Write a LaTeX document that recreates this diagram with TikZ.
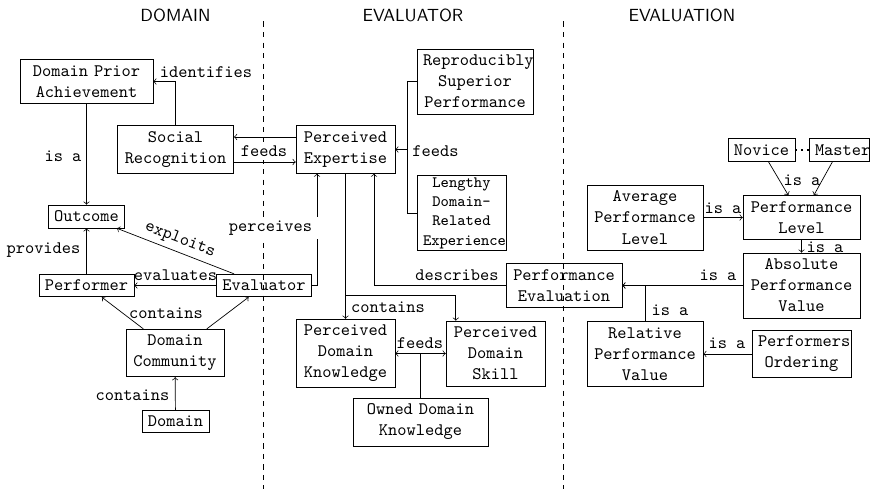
\documentclass[tikz,border=0pt]{standalone}
\usepackage{amsmath}
\usepackage{tikz}
\usetikzlibrary{calc}

\begin{document}
\begin{tikzpicture}[font=\ttfamily,
	concept/.style={draw, align=center},
	rel/.style={inner sep=2pt},
	region/.style={font=\sffamily}]
	
	\useasboundingbox (0,0) rectangle (17.48,9.78);
	
	% columns
	\node[region] (hdom) at (3.51,9.48) {DOMAIN};
	\node[region] (hevr) at (8.26,9.48) {EVALUATOR};
	\node[region] (hevn) at (13.64,9.48) {EVALUATION};
	
	\draw[dashed] (5.26,9.35) -- (5.26,0);
	\draw[dashed] (11.26,9.35) -- (11.26,0);
	
	% domain
	\node[concept, text width=2.42cm] (dpa) at (1.73,8.15) {Domain Prior\\Achievement};
	
	\node[concept, text width=2.09cm] (social) at (3.51,6.79) {Social\\Recognition};
	
	\node[concept] (outc) at (1.73,5.45) {Outcome};
	
	\node[concept] (perf) at (1.73,4.07) {Performer};
	
	\node[concept] (evalr) at (5.28,4.07) {Evaluator};
	
	\node[concept, text width=1.72cm] (dcom) at (3.50,2.72) {Domain\\Community};
	
	\node[concept] (dom) at (3.51,1.35) {Domain};
	
	% evaluator
	\node[concept, text width=1.74cm] (pexp) at (6.91,6.79) {Perceived\\Expertise};
	
	\node[concept, text width=2.08cm] (rsp) at (9.50,8.15) {Reproducibly\\Superior\\Performance};
	
	\node[concept, text width=1.54cm, font=\small\ttfamily, inner ysep=1pt] (lde) at (9.23,5.52) {Lengthy\\Domain-\\Related\\Experience};
	
	\node[concept, text width=1.74cm] (pdk) at (6.91,2.71) {Perceived\\Domain\\Knowledge};
	
	\node[concept, text width=1.74cm] (pds) at (9.91,2.71) {Perceived\\Domain\\Skill};
	
	\node[concept, text width=2.46cm] (odk) at (8.41,1.34) {Owned Domain\\Knowledge};
	
	% evaluation
	\node[concept, text width=2.08cm] (peval) at (11.28,4.07) {Performance\\Evaluation};
	
	\node[concept] (nov) at (15.23,6.78) {Novice};
	
	\node[concept, text width=0.96cm] (mast) at (16.78,6.78) {Master};
	
	\node[concept, text width=2.08cm] (apl) at (12.90,5.43) {Average\\Performance\\Level};
	
	\node[concept, text width=2.10cm] (plev) at (16.03,5.43) {Performance\\Level};
	
	\node[concept, text width=2.10cm] (apv) at (16.03,4.07) {Absolute\\Performance\\Value};
	
	\node[concept, text width=2.08cm] (rpv) at (12.90,2.70) {Relative\\Performance\\Value};
	
	\node[concept, text width=1.74cm] (pord) at (16.03,2.70) {Performers\\Ordering};
	
	\coordinate (fj) at (8.14,6.79);
	\coordinate (cj) at (6.91,3.88);
	
	\draw[->] (social) |- (dpa);
	\draw[->] (dpa) -- (outc);
	\draw[->] (perf) -- (outc);
	\draw[<-] (outc) -- (evalr);
	\draw[->] (evalr) -- (perf);
	\draw[->] (dcom) -- (perf);
	\draw[->] (dcom) -- (evalr);
	\draw[->] (dom) -- (dcom);
	\draw[->] ([yshift=0.25cm]pexp.west) -- ([yshift=0.25cm]social.east);
	\draw[->] ([yshift=-0.25cm]social.east) -- ([yshift=-0.25cm]pexp.west);
	\draw (rsp.west) -| (fj);
	\draw (lde.west) -| (fj);
	\draw[->] (fj) -- (pexp);
	\draw[->] (evalr) -| ([xshift=-0.57cm]pexp.south);
	\draw[->] (pexp) -- (pdk);
	\draw[->] (cj) -| ([xshift=0.2cm]pds.north west);
	\draw[->] (peval) -| ([xshift=0.57cm]pexp.south);
	\draw[<->] (pdk) -- (pds);
	\draw (odk.north) -- (odk.north |- pdk.east);
	\draw[->] (apl) -- (plev);
	\draw[->] (nov) -- (plev);
	\draw[->] (mast) -- (plev);
	\draw[line width=1.2pt, dash pattern=on 1.2pt off 2.2pt] (nov) -- (mast);
	\draw[->] (plev) -- (apv);
	\draw[->] (apv) -- (peval);
	\draw[->] (rpv) |- (peval);
	\draw[->] (pord) -- (rpv);
	
	% relation labels
	\node[rel] (l1) at (4.12,8.34) {identifies};
	\node[rel] (l2) at (1.26,6.66) {is a};
	\node[rel, fill=white] (l3) at (5.28,6.76) {feeds};
	\node[rel] (l4) at (8.71,6.76) {feeds};
	\node[rel, rotate=-21] (l5) at (3.60,4.98) {exploits};
	\node[rel] (l6) at (0.87,4.78) {provides};
	\node[rel] (l7) at (3.51,4.28) {evaluates};
	\node[rel] (l8) at (3.32,3.52) {contains};
	\node[rel] (l9) at (2.65,1.88) {contains};
	\node[rel, fill=white, inner xsep=4.5pt] (l10) at (5.41,5.22) {perceives};
	\node[rel] (l11) at (7.76,3.64) {contains};
	\node[rel] (l12) at (9.14,4.28) {describes};
	\node[rel] (l13) at (8.40,2.92) {feeds};
	\node[rel] (l14) at (14.46,5.62) {is a};
	\node[rel] (l15) at (16.04,6.18) {is a};
	\node[rel] (l16) at (16.50,4.84) {is a};
	\node[rel] (l17) at (14.36,4.28) {is a};
	\node[rel] (l18) at (13.40,3.58) {is a};
	\node[rel] (l19) at (14.54,2.92) {is a};
	
\end{tikzpicture}
\end{document}
